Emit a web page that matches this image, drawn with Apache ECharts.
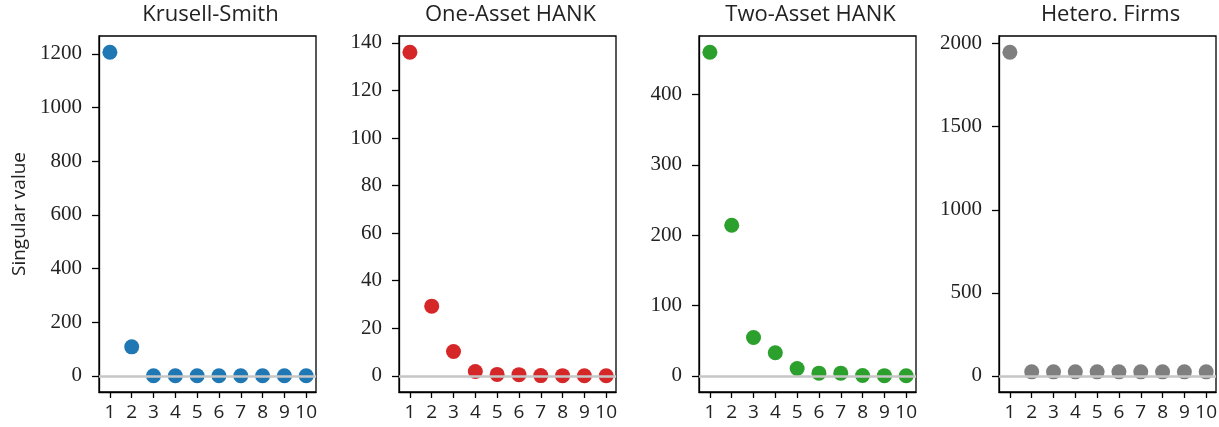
<!DOCTYPE html>
<html>
<head>
<meta charset="utf-8">
<style>
  html, body { margin: 0; padding: 0; background: #fff; }
  #chart { width: 1219px; height: 427px; }
</style>
<script src="https://cdn.jsdelivr.net/npm/echarts@6/dist/echarts.min.js"></script>
</head>
<body>
<div id="chart"></div>
<script>
// Leading singular values for each model
const indices = [1, 2, 3, 4, 5, 6, 7, 8, 9, 10];
const titles = ['Krusell-Smith', 'One-Asset HANK', 'Two-Asset HANK', 'Hetero. Firms'];
const krusellSmith = [1206, 108, 0.5, 0.3, 0.2, 0.1, 0.1, 0.05, 0.03, 0.02];
const oneAssetHank = [136.1, 29.3, 10.2, 1.8, 0.6, 0.5, 0.1, 0.06, 0.04, 0.02];
const twoAssetHank = [460, 214, 54.5, 32.7, 10.5, 3.8, 3.8, 0.4, 0.2, 0.1];
const heteroFirms = [1949, 24, 24, 24, 24, 24, 24, 24, 24, 24];
const yTicks1 = [0, 200, 400, 600, 800, 1000, 1200];
const yTicks2 = [0, 20, 40, 60, 80, 100, 120, 140];
const yTicks3 = [0, 100, 200, 300, 400];
const yTicks4 = [0, 500, 1000, 1500, 2000];
const yAxisLabel = 'Singular value';

const panels = [
  { values: krusellSmith, ticks: yTicks1, color: '#1f77b4', left: 99 },
  { values: oneAssetHank, ticks: yTicks2, color: '#d62728', left: 399 },
  { values: twoAssetHank, ticks: yTicks3, color: '#2ca02c', left: 699 },
  { values: heteroFirms, ticks: yTicks4, color: '#7f7f7f', left: 999 }
];

// axis limits padded by 5% around the data range (which includes zero)
function limits(vals) {
  const lo = Math.min(0, ...vals), hi = Math.max(...vals);
  const pad = (hi - lo) * 0.05;
  return [lo - pad, hi + pad];
}

const TEXT = '#222';
const grid = [], xAxis = [], yAxis = [], series = [], title = [];

panels.forEach((p, i) => {
  const [ymin, ymax] = limits(p.values);
  grid.push({
    left: p.left, top: 36, width: 217, height: 356,
    show: true, borderColor: '#000', borderWidth: 1.3,
    containLabel: false, outerBoundsMode: 'none'
  });
  title.push({
    text: titles[i],
    left: p.left + 106.5, top: -1, textAlign: 'center',
    textStyle: { fontFamily: 'Open Sans', fontSize: 22, fontWeight: 'normal', color: TEXT }
  });
  xAxis.push({
    type: 'value', gridIndex: i, min: 0.5, max: 10.45,
    splitLine: { show: false },
    axisLine: { show: true, onZero: false, lineStyle: { color: '#000', width: 1.3 } },
    axisTick: { show: true, length: 6, customValues: indices, lineStyle: { color: '#000', width: 1.3 } },
    axisLabel: {
      customValues: indices, margin: 11, color: TEXT,
      fontFamily: 'Open Sans', fontSize: 19,
      formatter: v => String(v)
    }
  });
  yAxis.push({
    type: 'value', gridIndex: i, min: ymin, max: ymax,
    name: i === 0 ? yAxisLabel : '',
    nameLocation: 'middle', nameGap: 70, nameRotate: 90,
    nameTextStyle: { fontFamily: 'Open Sans', fontSize: 19, color: TEXT },
    splitLine: { show: false },
    axisLine: { show: true, onZero: false, lineStyle: { color: '#000', width: 1.3 } },
    axisTick: { show: true, length: 7, customValues: p.ticks, lineStyle: { color: '#000', width: 1.3 } },
    axisLabel: {
      customValues: p.ticks, margin: 17, color: TEXT,
      fontFamily: 'Liberation Serif', fontSize: 21,
      formatter: v => String(v)
    }
  });
  // zero reference line, drawn beneath the points
  series.push({
    type: 'scatter', xAxisIndex: i, yAxisIndex: i, data: [], z: 1, silent: true,
    markLine: {
      silent: true, symbol: 'none', label: { show: false },
      lineStyle: { color: '#c6c6c6', width: 2.5, type: 'solid' },
      data: [{ yAxis: 0 }]
    }
  });
  series.push({
    type: 'scatter', xAxisIndex: i, yAxisIndex: i, z: 3,
    symbol: 'circle', symbolSize: 15,
    itemStyle: { color: p.color, opacity: 1 },
    data: indices.map((k, j) => [k, p.values[j]])
  });
});

const chart = echarts.init(document.getElementById('chart'), null, { renderer: 'canvas' });
chart.setOption({
  animation: false,
  backgroundColor: '#fff',
  title, grid, xAxis, yAxis, series
});
</script>
</body>
</html>
